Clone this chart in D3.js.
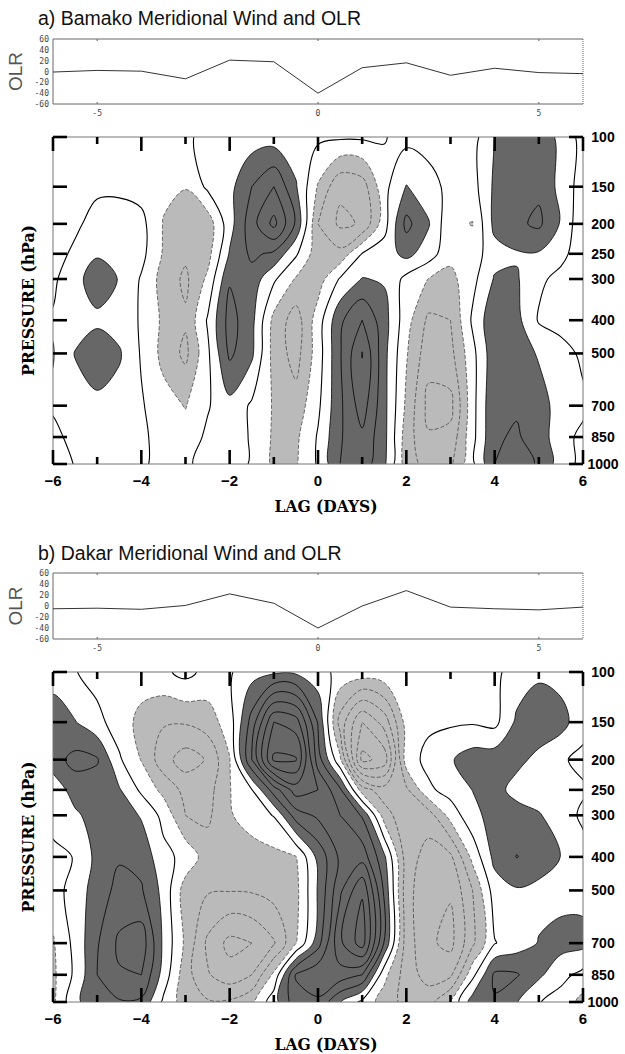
<!DOCTYPE html>
<html>
<head>
<meta charset="utf-8">
<script src="https://cdn.jsdelivr.net/npm/d3@7"></script>
<style>
  body { margin: 0; background: #fff; }
</style>
</head>
<body>
<svg id="fig"></svg>
<script>
// ---- data ----
// lag axis of the wind sections (days) and the radiosonde levels (hPa)
const lags = [-6, -5.5, -5, -4.5, -4, -3.5, -3, -2.5, -2, -1.5, -1, -0.5, 0, 0.5, 1, 1.5, 2, 2.5, 3, 3.5, 4, 4.5, 5, 5.5, 6];
const levels = [100, 150, 200, 250, 300, 400, 500, 700, 850, 1000];

// OLR anomaly at daily lags
const olrLags = [-6, -5, -4, -3, -2, -1, 0, 1, 2, 3, 4, 5, 6];
const olrBamako = [-1, 2, 0.6, -13.5, 21, 18, -40, 7, 16, -7, 6, -2, -4];
const olrDakar = [-5, -4, -6, 1, 22, 5, -40, 0, 28, -2, -5, -7, -2];

// meridional wind, one row per level (100 hPa first), in contour intervals
const windBamako = [
  [-0.4, -0.3, -0.3, -0.3, -0.4, -0.5, -0.3, 0.5, 0.5, 0.5, 0.5, 0.4, 0.2, 0.15, 0.15, 0.05, -0.3, -0.4, -0.4, -0.4, 1.02, 1.6, 1.5, 0.8, -0.4],
  [-0.4, -0.3, -0.15, -0.15, -0.4, -0.8, -0.95, 0.2, 0.7, 2.0, 3.0, 1.1, -1.1, -2.8, -2.5, -0.3, 1.05, 0.4, -0.3, -0.4, 1.2, 1.7, 1.8, 0.7, -0.5],
  [-0.4, -0.15, 0.3, 0.35, 0.3, -1.05, -1.6, -1.6, 0.6, 2.6, 4.3, 1.85, -2.0, -3.2, -2.9, -0.4, 2.3, 1.1, -0.8, -1.04, 1.3, 1.8, 2.2, 0.9, -0.8],
  [-0.3, 0.15, 0.9, 0.75, 0.3, -1.1, -1.8, -1.4, 1.1, 2.2, 1.8, 0.15, -1.6, -1.7, 0.05, 0.5, 1.3, 0.5, -0.7, -0.5, 0.6, 0.9, 0.9, 0.3, -0.6],
  [-0.2, 0.7, 1.5, 0.95, -0.1, -1.4, -2.2, -0.8, 1.9, 1.6, 0.17, -1.1, -1.5, 0.1, 1.05, 0.9, -0.3, -1.02, -1.3, -0.3, 1.1, 1.1, 0.2, -0.3, -0.6],
  [0.1, 0.5, 0.8, 0.55, -0.1, -1.2, -1.85, 0.1, 2.4, 1.3, -1.3, -2.5, -0.5, 1.8, 3.0, 1.4, -0.6, -2.2, -2.0, 0.17, 1.8, 1.3, -0.1, -0.4, -0.3],
  [-0.05, 1.05, 1.6, 1.12, -0.1, -1.3, -2.25, -0.2, 2.2, 1.2, -1.4, -2.4, -0.5, 1.9, 4.05, 1.3, -0.9, -2.6, -2.3, -0.3, 1.7, 1.5, 0.9, 0.4, -0.2],
  [0.15, 0.55, 0.75, 0.6, 0.1, -0.6, -1.05, -0.1, 0.7, -0.15, -1.1, -1.6, -0.2, 1.8, 3.5, 1.3, -1.2, -3.3, -3.3, -0.34, 1.9, 1.9, 1.4, 0.6, 0.2],
  [-0.3, 0.35, 0.5, 0.4, 0.2, -0.4, -0.6, 0.2, 0.5, -0.1, -1.15, -1.2, 0.1, 1.9, 2.8, 1.3, -1.5, -2.9, -2.7, -0.3, 1.9, 2.1, 1.6, 0.3, -0.2],
  [-0.5, 0.05, 0.4, 0.4, 0.15, -0.3, -0.2, 0.4, 0.5, -0.1, -1.2, -1.1, 0.12, 2.0, 2.6, 1.2, -1.5, -2.4, -2.2, -0.2, 2.0, 2.4, 1.9, 0.5, -0.3]
];

const windDakar = [
  [0.6, 0.05, -0.4, -0.4, -0.5, -0.2, 0.3, -0.3, -0.1, 0.6, 0.8, 0.8, 0.4, -0.3, -0.4, -0.3, -0.2, -0.3, -0.4, -0.4, -0.2, 0.4, 0.8, 0.6, 0.3],
  [1.5, 1.05, 0.3, -0.5, -1.3, -1.9, -1.9, -1.5, -0.5, 2.4, 6.0, 5.5, 1.9, -2.4, -5.0, -3.6, -0.6, -0.2, -0.15, -0.1, -0.3, 1.2, 1.7, 1.4, 0.3],
  [1.6, 2.3, 2.1, 0.14, -1.05, -2.6, -3.5, -2.9, -1.05, 3.0, 7.2, 7.1, 2.5, -0.8, -6.3, -5.6, -0.5, 0.3, 0.9, 1.5, 1.6, 1.3, 0.7, 0.1, -0.2],
  [0.3, 1.5, 1.5, 1.1, -0.2, -1.3, -2.3, -2.4, -1.05, -0.05, 2.5, 4.5, 4.0, 2.2, -1.5, -2.6, -2.2, -0.2, 0.4, 1.02, 1.4, 0.6, 0.4, 0.5, 0.1],
  [0.4, 0.8, 1.5, 1.6, 0.9, -0.3, -2.0, -2.2, -1.1, -0.5, 0.05, 2.5, 3.2, 3.0, 1.9, -1.5, -2.8, -2.5, -0.6, 0.7, 1.4, 1.5, 1.1, 0.4, -0.15],
  [-0.3, 0.05, 1.3, 1.9, 1.7, 0.3, -0.3, -1.5, -1.8, -1.5, -1.3, -1.05, 1.3, 3.2, 3.6, 1.2, -2.5, -3.4, -3.2, -0.7, 1.3, 2.03, 1.6, 0.98, 0.3],
  [-0.4, 0.4, 1.5, 2.3, 2.1, 0.7, -1.5, -1.9, -1.95, -1.9, -1.6, -1.3, 1.1, 3.8, 5.9, 1.8, -2.6, -3.8, -3.9, -2.0, 0.5, 0.9, 0.7, 0.6, 0.7],
  [-1.1, 0.3, 1.9, 3.2, 3.6, 0.8, -1.2, -3.2, -4.3, -4.0, -3.1, -1.05, 1.6, 4.8, 6.5, 1.9, -2.5, -3.8, -4.3, -2.2, -0.05, 0.5, 1.05, 1.4, 1.3],
  [-1.2, 0.2, 2.0, 2.9, 3.0, 0.6, -1.6, -2.9, -3.6, -3.0, -0.78, 3.1, 3.8, 3.6, 3.0, -0.7, -2.5, -3.4, -3.2, -0.3, 2.2, 2.1, 1.2, 0.3, -0.3],
  [-1.2, 0.8, 1.6, 1.9, 1.8, -0.2, -1.5, -1.9, -1.85, -1.2, 0.6, 2.6, 2.8, 1.05, -0.25, -1.5, -2.3, -2.4, -0.9, 1.5, 1.9, 1.05, 0.05, -0.4, -1.3]
];

// tick labels
const lagTicks = [-6, -4, -2, 0, 2, 4, 6];
const olrTicks = [-60, -40, -20, 0, 20, 40, 60];
const olrLagTicks = [-5, 0, 5];

// ---- drawing ----
const W = 625, H = 1054;
const plotLeft = 53, plotRight = 583;
const DARK = '#676767', LIGHT = '#bababa';
const sans = 'Liberation Sans, Arial, sans-serif';
const serif = 'DejaVu Serif, Liberation Serif, serif';

const svg = d3.select('#fig').attr('width', W).attr('height', H);
svg.append('rect').attr('width', W).attr('height', H).attr('fill', '#fff');

const x = d3.scaleLinear().domain([-6, 6]).range([plotLeft, plotRight]);

function drawOlr(g, p) {
    const y = d3.scaleLinear().domain([-60, 60]).range([p.olrBottom, p.olrTop]);

    // frame, right edge dotted
    g.append('path')
        .attr('d', `M${plotRight},${p.olrTop}H${plotLeft}V${p.olrBottom}H${plotRight}`)
        .attr('fill', 'none').attr('stroke', '#666').attr('stroke-width', 1);
    g.append('line')
        .attr('x1', plotRight).attr('x2', plotRight)
        .attr('y1', p.olrTop).attr('y2', p.olrBottom)
        .attr('stroke', '#666').attr('stroke-dasharray', '1,1');

    g.selectAll('.olrtick').data(olrLagTicks).enter().append('path')
        .attr('d', d => `M${x(d)},${p.olrTop}v2M${x(d)},${p.olrBottom}v-2`)
        .attr('stroke', '#666');

    g.selectAll('.olrylab').data(olrTicks).enter().append('text')
        .attr('x', 49).attr('y', d => y(d) + 3)
        .attr('text-anchor', 'end')
        .attr('font-family', 'DejaVu Sans Mono, monospace')
        .attr('font-size', 8).attr('fill', '#444')
        .text(d => d);

    g.selectAll('.olrxlab').data(olrLagTicks).enter().append('text')
        .attr('x', d => x(d)).attr('y', p.olrBottom + 12)
        .attr('text-anchor', 'middle')
        .attr('font-family', 'DejaVu Sans Mono, monospace')
        .attr('font-size', 8).attr('fill', '#444')
        .text(d => d);

    g.append('text')
        .attr('transform', `translate(22,${(p.olrTop + p.olrBottom) / 2}) rotate(-90)`)
        .attr('text-anchor', 'middle')
        .attr('font-family', sans).attr('font-size', 19).attr('fill', '#555')
        .text('OLR');

    const line = d3.line()
        .x((d, i) => x(olrLags[i]))
        .y(d => y(d));
    g.append('path').datum(p.olr)
        .attr('d', line)
        .attr('fill', 'none').attr('stroke', '#333').attr('stroke-width', 1);
}

function drawSection(g, p) {
    const y = d3.scalePow().exponent(0.15).domain([100, 1000]).range([p.top, p.bottom]);
    const yPos = levels.map(y);
    const nx = lags.length, ny = levels.length;
    const step = lags[1] - lags[0];

    const flat = [].concat(...p.grid);
    const negFlat = flat.map(v => -v);
    const contours = d3.contours().size([nx, ny]);

    // grid coordinates -> page: samples sit at cell centres
    function toScreen(pt) {
        const lag = lags[0] + (pt[0] - 0.5) * step;
        const r = pt[1] - 0.5;
        const j = Math.max(0, Math.min(ny - 2, Math.floor(r)));
        return [x(lag), yPos[j] + (r - j) * (yPos[j + 1] - yPos[j])];
    }
    const ringLine = d3.line().curve(d3.curveCatmullRomClosed.alpha(0.5));
    function pathOf(geom) {
        return geom.coordinates.map(poly =>
            poly.map(ring => ringLine(ring.slice(0, -1).map(toScreen))).join('')
        ).join('');
    }

    const clipId = 'clip-' + p.id;
    g.append('clipPath').attr('id', clipId)
        .append('rect')
        .attr('x', plotLeft).attr('y', p.top)
        .attr('width', plotRight - plotLeft).attr('height', p.bottom - p.top);

    const c = g.append('g').attr('clip-path', `url(#${clipId})`);

    // shading
    c.append('path').attr('d', pathOf(contours.contour(negFlat, 1)))
        .attr('fill', LIGHT).attr('fill-rule', 'evenodd');
    c.append('path').attr('d', pathOf(contours.contour(flat, 1)))
        .attr('fill', DARK).attr('fill-rule', 'evenodd');

    // contour lines
    for (let k = 1; k <= 8; k++) {
        c.append('path').attr('d', pathOf(contours.contour(negFlat, k)))
            .attr('fill', 'none').attr('stroke', '#4a4a4a')
            .attr('stroke-width', 0.8).attr('stroke-dasharray', '4,2');
        c.append('path').attr('d', pathOf(contours.contour(flat, k)))
            .attr('fill', 'none').attr('stroke', '#000').attr('stroke-width', 0.8);
    }
    c.append('path').attr('d', pathOf(contours.contour(flat, 0)))
        .attr('fill', 'none').attr('stroke', '#000').attr('stroke-width', 1.1);

    // frame
    g.append('rect')
        .attr('x', plotLeft).attr('y', p.top)
        .attr('width', plotRight - plotLeft).attr('height', p.bottom - p.top)
        .attr('fill', 'none').attr('stroke', '#777').attr('stroke-width', 1);

    // thick ticks
    const ticks = g.append('g').attr('stroke', '#000').attr('stroke-width', 2.6);
    levels.forEach(l => {
        ticks.append('line').attr('x1', plotLeft).attr('x2', plotLeft + 14)
            .attr('y1', y(l)).attr('y2', y(l));
        ticks.append('line').attr('x1', plotRight - 14).attr('x2', plotRight)
            .attr('y1', y(l)).attr('y2', y(l));
    });
    d3.range(-6, 7).forEach(d => {
        const len = d % 2 === 0 ? 14 : 7;
        ticks.append('line').attr('x1', x(d)).attr('x2', x(d))
            .attr('y1', p.bottom).attr('y2', p.bottom - len);
        ticks.append('line').attr('x1', x(d)).attr('x2', x(d))
            .attr('y1', p.top).attr('y2', p.top + len);
    });

    // lag labels
    g.selectAll('.laglab').data(lagTicks).enter().append('text')
        .attr('x', d => x(d)).attr('y', p.bottom + 22)
        .attr('text-anchor', 'middle')
        .attr('font-family', sans).attr('font-weight', 'bold').attr('font-size', 15)
        .text(d => d3.format('d')(d));

    // pressure labels on the right
    g.selectAll('.plab').data(levels).enter().append('text')
        .attr('x', 603).attr('y', d => y(d) + 5)
        .attr('text-anchor', 'middle')
        .attr('font-family', sans).attr('font-weight', 'bold').attr('font-size', 14)
        .text(d => d);

    g.append('text')
        .attr('x', 326).attr('y', p.bottom + 48)
        .attr('text-anchor', 'middle')
        .attr('font-family', serif).attr('font-weight', 'bold').attr('font-size', 16)
        .attr('textLength', 103).attr('lengthAdjust', 'spacingAndGlyphs')
        .text('LAG (DAYS)');

    g.append('text')
        .attr('transform', `translate(34,${(p.top + p.bottom) / 2}) rotate(-90)`)
        .attr('text-anchor', 'middle')
        .attr('font-family', serif).attr('font-weight', 'bold').attr('font-size', 17)
        .attr('textLength', 151).attr('lengthAdjust', 'spacingAndGlyphs')
        .text('PRESSURE (hPa)');
}

function drawPanel(p) {
    const g = svg.append('g');
    g.append('text')
        .attr('x', 38).attr('y', p.titleY)
        .attr('font-family', sans).attr('font-size', 19.5).attr('fill', '#111')
        .text(p.title);
    drawOlr(g, p);
    drawSection(g, p);
}

drawPanel({
    id: 'a', title: 'a) Bamako Meridional Wind and OLR', titleY: 25,
    olrTop: 39, olrBottom: 104, olr: olrBamako,
    top: 137, bottom: 464, grid: windBamako
});

drawPanel({
    id: 'b', title: 'b) Dakar Meridional Wind and OLR', titleY: 560,
    olrTop: 573, olrBottom: 639, olr: olrDakar,
    top: 672, bottom: 1002, grid: windDakar
});
</script>
</body>
</html>
